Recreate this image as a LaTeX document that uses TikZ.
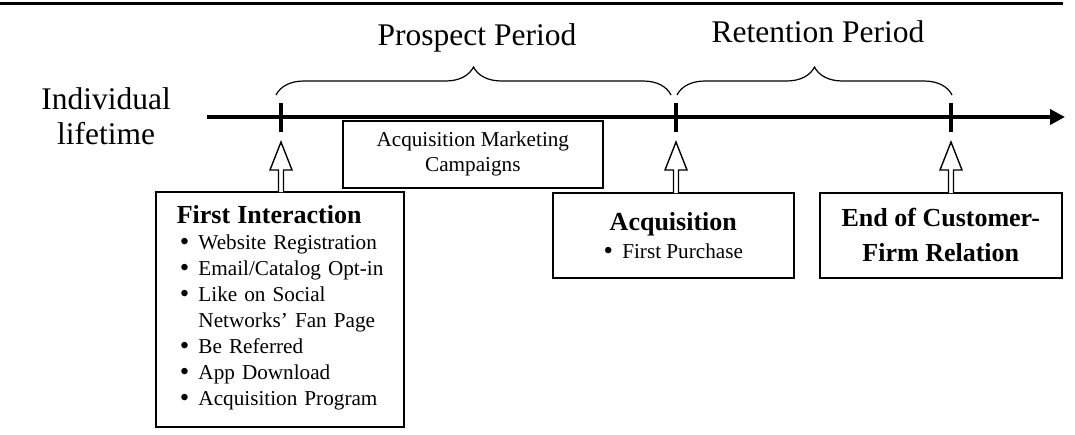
\documentclass[tikz,border=0pt]{standalone}
\usepackage{fontspec}
\setmainfont{Liberation Serif}
\usepackage{tikz}
\usetikzlibrary{arrows.meta, positioning, calc, decorations.pathreplacing}

% list bullet, a bit heavier than the text one
\newcommand{\itemdot}{\raisebox{-0.6pt}[0pt][0pt]{\fontsize{13.5}{13}\selectfont\textbullet}}

% open block arrow from the top of a box up to a tick on the time line
\newcommand{\hollowarrow}[2]{%
  \draw[hollow] ($(#1 |- #2.north)+(-2.5,1)$) -- ($(#1)+(-2.5,53)$) -- ($(#1)+(-11,53)$)
    -- ($(#1)+(0,25)$) -- ($(#1)+(11,53)$) -- ($(#1)+(2.5,53)$) -- ($(#1 |- #2.north)+(2.5,1)$);
}

\begin{document}
\begin{tikzpicture}[x=0.5pt, y=-0.5pt,
    box/.style={draw, line width=0.8pt, inner sep=0pt, anchor=north west},
    period/.style={font=\fontsize{15.75}{17.5}\selectfont},
    brace/.style={decorate, decoration={brace, amplitude=14pt}, line width=0.6pt},
    tick/.style={line width=2.2pt},
    hollow/.style={fill=white, line width=0.7pt}]
  \useasboundingbox (0,0) rectangle (1075,434);
  \draw[line width=1.5pt] (0,3) -- (1063,3);

  % time line
  \coordinate (start) at (207,117);
  \coordinate (end) at (1065,117);
  \coordinate (t1) at (281,117);
  \coordinate (t2) at (676,117);
  \coordinate (t3) at (951,117);
  \draw[line width=2pt, -{Triangle[length=7.5pt,width=7.5pt]}] (start) -- (end);
  \foreach \t in {t1,t2,t3} {
    \draw[tick] ($(\t)+(0,-14)$) -- ($(\t)+(0,15)$);
  }
  \node[period, align=center] (life) at (106,116) {Individual\\lifetime};

  % periods
  \draw[brace] ($(t1)+(-5,-22)$) -- ($(t2)+(-5,-22)$);
  \draw[brace] ($(t2)+(1,-22)$) -- ($(t3)+(1,-22)$);
  \node[period] (prospect) at (477,38) {Prospect Period};
  \node[period] (retention) at (818,32) {Retention Period};

  \node[box, minimum width=130pt, minimum height=33.5pt, align=center,
        font=\fontsize{10.6}{12.5}\selectfont] (campaign) at (342,120)
        {Acquisition Marketing\\Campaigns};

  % events
  \node[box, minimum width=124pt, minimum height=117.5pt, inner xsep=10.5pt, text width=103pt,
        font=\fontsize{10.6}{13}\selectfont] (first) at (155,191) {%
    \begin{tabular}{@{\hspace{1.5pt}}l@{\hspace{4.6pt}}l@{}}
      \multicolumn{2}{@{}l@{}}{\fontsize{13}{15}\selectfont\bfseries First Interaction}\\
      \itemdot & Website Registration\\
      \itemdot & Email/Catalog Opt-in\\
      \itemdot & Like on Social\\
               & Networks’ Fan Page\\
      \itemdot & Be Referred\\
      \itemdot & App Download\\
      \itemdot & Acquisition Program
    \end{tabular}};
  \node[box, minimum width=120.5pt, minimum height=42.5pt, align=center,
        font=\fontsize{10.6}{14}\selectfont] (acq) at (552,192)
        {{\fontsize{13}{15}\selectfont\bfseries Acquisition}\\\itemdot\hspace{4.6pt}First Purchase};
  \node[box, minimum width=121pt, minimum height=42.5pt, align=center,
        font=\fontsize{13}{17.5}\selectfont\bfseries] (churn) at (819,192)
        {End of Customer-\\Firm Relation};

  \hollowarrow{t1}{first}
  \hollowarrow{t2}{acq}
  \hollowarrow{t3}{churn}
\end{tikzpicture}
\end{document}
